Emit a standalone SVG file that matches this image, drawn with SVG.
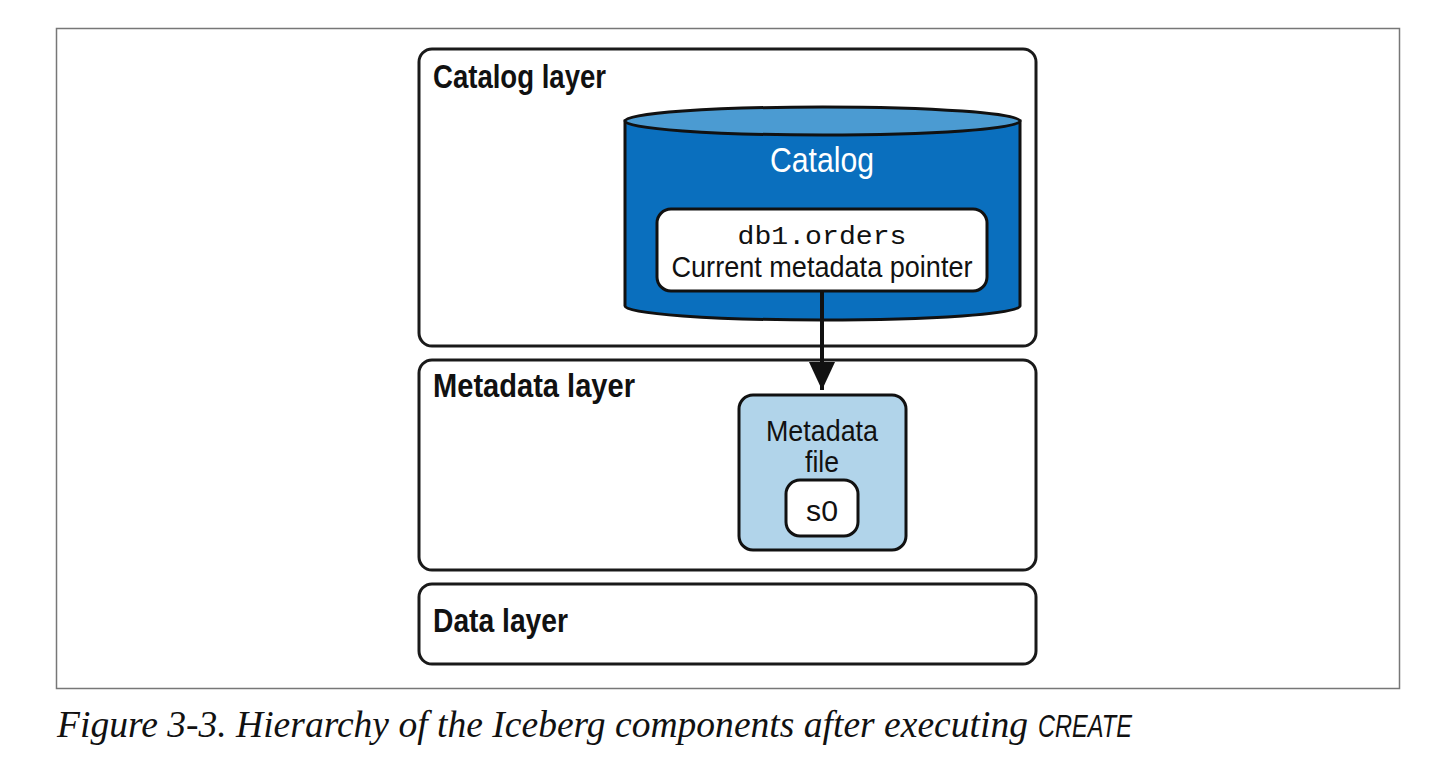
<svg xmlns="http://www.w3.org/2000/svg" width="1440" height="774" viewBox="0 0 1440 774">
<style>
.layer{fill:#fff;stroke:#1a1a1a;stroke-width:3}
.lbl{font-family:"Liberation Sans Narrow","Liberation Sans",sans-serif;font-size:33px;fill:#111;font-weight:bold}
.txt{font-family:"Liberation Sans Narrow","Liberation Sans",sans-serif;font-size:29px;fill:#111}
.mono{font-family:"Liberation Mono",monospace;font-size:25px;fill:#111}
.cap{font-family:"Liberation Serif",serif;font-style:italic;font-size:37px;fill:#111}
</style>
<defs>
<marker id="ah" markerWidth="7" markerHeight="6.5" refX="7" refY="3.25" orient="auto" markerUnits="strokeWidth">
<path d="M0,0 L7,3.25 L0,6.5 Z" fill="#111"/>
</marker>
</defs>
<rect x="0" y="0" width="1440" height="774" fill="#fff"/>
<rect x="56.5" y="28.5" width="1343" height="660" fill="none" stroke="#777" stroke-width="1.5"/>

<g id="catalog-layer">
<rect class="layer" x="419" y="49" width="617" height="297" rx="13"/>
<text class="lbl" x="433" y="88" textLength="173" lengthAdjust="spacingAndGlyphs">Catalog layer</text>
</g>
<g id="metadata-layer">
<rect class="layer" x="419" y="360" width="617" height="210" rx="13"/>
<text class="lbl" x="433" y="397" textLength="202" lengthAdjust="spacingAndGlyphs">Metadata layer</text>
</g>
<g id="data-layer">
<rect class="layer" x="419" y="584" width="617" height="80" rx="13"/>
<text class="lbl" x="433" y="632" textLength="135" lengthAdjust="spacingAndGlyphs">Data layer</text>
</g>

<g id="catalog">
<path d="M625,121 L625,306 A197.5,14 0 0 0 1020,306 L1020,121 Z" fill="#0a6fbe" stroke="#111" stroke-width="3"/>
<ellipse cx="822.5" cy="121" rx="197.5" ry="14" fill="#4b9bd2" stroke="#111" stroke-width="3"/>
<text x="822" y="172" text-anchor="middle" font-family="Liberation Sans Narrow, Liberation Sans, sans-serif" font-size="35" fill="#fff" textLength="104" lengthAdjust="spacingAndGlyphs">Catalog</text>
</g>
<g id="pointer">
<rect x="657" y="209" width="330" height="82" rx="14" fill="#fff" stroke="#111" stroke-width="3"/>
<text class="mono" x="822" y="244" text-anchor="middle" textLength="169" lengthAdjust="spacingAndGlyphs">db1.orders</text>
<text class="txt" x="822" y="277" text-anchor="middle" textLength="301" lengthAdjust="spacingAndGlyphs">Current metadata pointer</text>
</g>

<g id="metadata-file">
<rect x="739" y="395" width="167" height="155" rx="14" fill="#b1d4ea" stroke="#111" stroke-width="3"/>
<text class="txt" x="822" y="441" text-anchor="middle" textLength="112" lengthAdjust="spacingAndGlyphs">Metadata</text>
<text class="txt" x="822" y="472" text-anchor="middle" textLength="34" lengthAdjust="spacingAndGlyphs">file</text>
</g>
<g id="s0">
<rect x="786" y="480" width="72" height="56" rx="14" fill="#fff" stroke="#111" stroke-width="3"/>
<text class="txt" x="822" y="521" text-anchor="middle" textLength="32" lengthAdjust="spacingAndGlyphs">s0</text>
</g>

<g id="connectors">
<line x1="822" y1="291" x2="822" y2="390" stroke="#111" stroke-width="4" marker-end="url(#ah)"/>
</g>

<text class="cap" x="57" y="737" textLength="971" lengthAdjust="spacingAndGlyphs">Figure 3-3. Hierarchy of the Iceberg components after executing</text>
<text x="1038" y="737" font-family="Liberation Sans Narrow, Liberation Sans, sans-serif" font-style="italic" font-size="32" fill="#111" textLength="94" lengthAdjust="spacingAndGlyphs">CREATE</text>
</svg>
